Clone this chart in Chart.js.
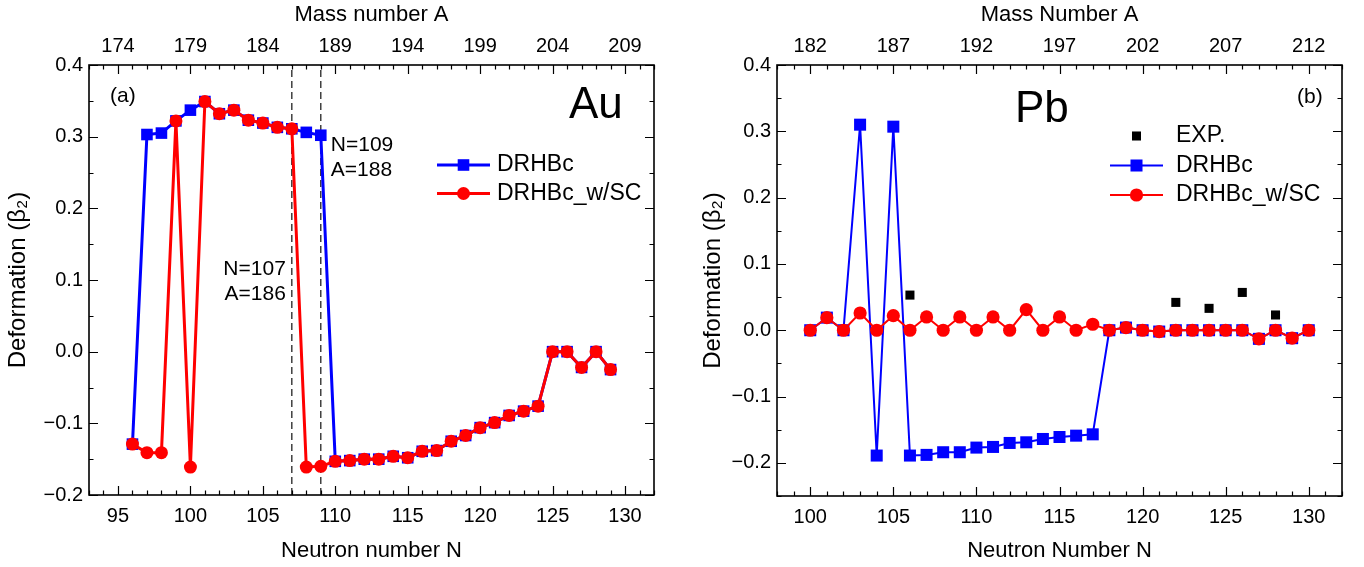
<!DOCTYPE html>
<html>
<head>
<meta charset="utf-8">
<script src="https://cdn.jsdelivr.net/npm/chart.js@4.4.0/dist/chart.umd.min.js"></script>
<style>
  html, body { margin: 0; padding: 0; background: #fff; }
  #wrap { position: relative; width: 1364px; height: 567px; }
  canvas { position: absolute; top: 0; }
  #auChart { left: 0; }
  #pbChart { left: 682px; }
</style>
</head>
<body>
<div id="wrap">
  <canvas id="auChart" width="682" height="567"></canvas>
  <canvas id="pbChart" width="682" height="567"></canvas>
</div>
<script>
const FONT = "'Liberation Sans', Arial, Helvetica, sans-serif";
Chart.defaults.font.family = FONT;
Chart.defaults.color = '#000';

// panel (a): Au
const auN = [96, 97, 98, 99, 100, 101, 102, 103, 104, 105, 106, 107, 108, 109, 110, 111, 112,
  113, 114, 115, 116, 117, 118, 119, 120, 121, 122, 123, 124, 125, 126, 127, 128, 129];
const auDRHBc = [-0.129, 0.303, 0.305, 0.322, 0.337, 0.349, 0.332, 0.337, 0.323, 0.319, 0.313, 0.311, 0.306, 0.302,
  -0.153, -0.152, -0.150, -0.150, -0.146, -0.148, -0.139, -0.138, -0.125, -0.117, -0.106, -0.099, -0.089,
  -0.083, -0.076, 0.000, 0.000, -0.022, 0.000, -0.025];
const auSC = [-0.129, -0.141, -0.141, 0.322, -0.161, 0.349, 0.332, 0.337, 0.323, 0.319, 0.313, 0.311, -0.161, -0.160,
  -0.153, -0.152, -0.150, -0.150, -0.146, -0.148, -0.139, -0.138, -0.125, -0.117, -0.106, -0.099, -0.089,
  -0.083, -0.076, 0.000, 0.000, -0.022, 0.000, -0.025];
const auTickN = [95, 100, 105, 110, 115, 120, 125, 130];
const auTickA = [174, 179, 184, 189, 194, 199, 204, 209];
const auMarkN = [107, 109];

// panel (b): Pb
const pbN = [100, 101, 102, 103, 104, 105, 106, 107, 108, 109, 110, 111, 112, 113, 114, 115,
  116, 117, 118, 119, 120, 121, 122, 123, 124, 125, 126, 127, 128, 129, 130];
const pbDRHBc = [0.000, 0.019, 0.000, 0.310, -0.189, 0.307, -0.189, -0.188, -0.184, -0.184, -0.177, -0.176,
  -0.170, -0.169, -0.164, -0.161, -0.159, -0.157, 0.000, 0.004, 0.000, -0.002, 0.000, 0.000, 0.000,
  0.000, 0.000, -0.013, 0.000, -0.012, 0.000];
const pbSC = [0.000, 0.019, 0.000, 0.026, 0.000, 0.022, 0.000, 0.020, 0.000, 0.020, 0.000, 0.020,
  0.000, 0.031, 0.000, 0.020, 0.000, 0.009, 0.000, 0.004, 0.000, -0.002, 0.000, 0.000, 0.000,
  0.000, 0.000, -0.013, 0.000, -0.012, 0.000];
const expN = [106, 122, 124, 126, 128];
const expBeta = [0.053, 0.042, 0.033, 0.057, 0.023];
const pbTickN = [100, 105, 110, 115, 120, 125, 130];
const pbTickA = [182, 187, 192, 197, 202, 207, 212];

const betaTicks = [-0.2, -0.1, 0.0, 0.1, 0.2, 0.3, 0.4];

const pts = (xs, ys) => xs.map((x, i) => ({ x: x, y: ys[i] }));
const fmtBeta = v => v.toFixed(1).replace('-', '\u2212');
const setTicks = vals => s => { s.ticks = vals.map(v => ({ value: v })); };

// inward ticks on all four sides + frame (Origin style)
function stepValues(scale, step) {
  const out = [];
  const a = Math.ceil(scale.min / step - 1e-6);
  const b = Math.floor(scale.max / step + 1e-6);
  for (let i = a; i <= b; i++) out.push(i * step);
  return out;
}
function isMajor(scale, v) {
  return scale.ticks.some(t => Math.abs(t.value - v) < 1e-6);
}
const frameTicks = {
  id: 'frameTicks',
  afterDraw(chart, args, o) {
    const { ctx, chartArea: a } = chart;
    const sx = chart.scales.x, st = chart.scales.xTop, sy = chart.scales.y;
    ctx.save();
    ctx.strokeStyle = '#000';
    ctx.lineWidth = 1.2;
    ctx.beginPath();
    stepValues(sx, o.xMinor).forEach(v => {
      const p = Math.round(sx.getPixelForValue(v)) + 0.5;
      const len = isMajor(sx, v) ? 9 : 4.5;
      ctx.moveTo(p, a.bottom); ctx.lineTo(p, a.bottom - len);
    });
    stepValues(st, o.xMinor).forEach(v => {
      const p = Math.round(st.getPixelForValue(v)) + 0.5;
      const len = isMajor(st, v) ? 9 : 4.5;
      ctx.moveTo(p, a.top); ctx.lineTo(p, a.top + len);
    });
    stepValues(sy, o.yMinor).forEach(v => {
      const p = Math.round(sy.getPixelForValue(v)) + 0.5;
      const len = isMajor(sy, v) ? 9 : 4.5;
      ctx.moveTo(a.left, p); ctx.lineTo(a.left + len, p);
      ctx.moveTo(a.right, p); ctx.lineTo(a.right - len, p);
    });
    ctx.stroke();
    ctx.lineWidth = 1.6;
    ctx.strokeRect(a.left, a.top, a.right - a.left, a.bottom - a.top);
    ctx.restore();
  }
};

function marker(ctx, style, r, x, y) {
  ctx.beginPath();
  if (style === 'rect') {
    const h = r * Math.SQRT1_2;
    ctx.rect(x - h, y - h, 2 * h, 2 * h);
  } else {
    ctx.arc(x, y, r, 0, Math.PI * 2);
  }
  ctx.fill();
}

// legend drawn as line + marker sample, like the original
const sideLegend = {
  id: 'sideLegend',
  afterDraw(chart, args, o) {
    const ctx = chart.ctx;
    ctx.save();
    o.items.forEach((idx, i) => {
      const ds = chart.data.datasets[idx];
      const y = o.y + i * o.dy;
      if (ds.showLine !== false) {
        ctx.strokeStyle = ds.borderColor;
        ctx.lineWidth = ds.borderWidth;
        ctx.beginPath();
        ctx.moveTo(o.x, y);
        ctx.lineTo(o.x + o.len, y);
        ctx.stroke();
      }
      ctx.fillStyle = ds.pointBackgroundColor;
      marker(ctx, ds.pointStyle, ds.pointRadius, o.x + o.len / 2, y);
      ctx.fillStyle = '#000';
      ctx.font = o.size + 'px ' + FONT;
      ctx.textAlign = 'left';
      ctx.textBaseline = 'middle';
      ctx.fillText(ds.label, o.x + o.len + o.gap, y);
    });
    ctx.restore();
  }
};

// free text in the plot
const notes = {
  id: 'notes',
  afterDraw(chart, args, o) {
    const ctx = chart.ctx;
    ctx.save();
    ctx.fillStyle = '#000';
    o.items.forEach(t => {
      let x = t.x;
      if (t.n !== undefined) x = chart.scales.x.getPixelForValue(t.n) + t.dx;
      ctx.font = t.size + 'px ' + FONT;
      ctx.textAlign = t.align || 'left';
      ctx.textBaseline = t.base || 'middle';
      ctx.fillText(t.text, x, t.y);
    });
    ctx.restore();
  }
};

function axes(o) {
  return {
    x: {
      type: 'linear', position: 'bottom', min: o.xMin, max: o.xMax,
      afterBuildTicks: setTicks(o.nTicks),
      afterFit: s => { s.height = o.bottomH; },
      grid: { display: false, drawTicks: false }, border: { display: false },
      ticks: { padding: 9, autoSkip: false, maxRotation: 0, font: { size: 20 }, color: '#000' },
      title: { display: true, text: o.xTitle, font: { size: 22 }, color: '#000', padding: { top: 0, bottom: 3 } }
    },
    xTop: {
      type: 'linear', position: 'top', min: o.aMin, max: o.aMax,
      afterBuildTicks: setTicks(o.aTicks),
      afterFit: s => { s.height = 65; },
      grid: { display: false, drawTicks: false }, border: { display: false },
      ticks: { padding: 7, autoSkip: false, maxRotation: 0, font: { size: 20 }, color: '#000' },
      title: { display: true, text: o.aTitle, font: { size: 22 }, color: '#000', padding: { top: 2, bottom: 0 } }
    },
    y: {
      type: 'linear', position: 'left', min: o.yMin, max: 0.4,
      afterBuildTicks: setTicks(betaTicks),
      afterFit: s => { s.width = o.leftW; },
      grid: { display: false, drawTicks: false }, border: { display: false },
      ticks: { padding: 6, font: { size: 20 }, color: '#000', callback: fmtBeta },
      title: { display: true, text: 'Deformation (\u03B2\u2082)', font: { size: 24 }, color: '#000', padding: { top: o.yTitlePad, bottom: 0 } }
    }
  };
}

new Chart(document.getElementById('auChart'), {
  type: 'line',
  data: {
    datasets: [
      {
        label: 'DRHBc', data: pts(auN, auDRHBc), order: 1,
        borderColor: '#0000ff', borderWidth: 3, backgroundColor: '#0000ff',
        pointStyle: 'rect', pointRadius: 8.2, pointBackgroundColor: '#0000ff', pointBorderWidth: 0
      },
      {
        label: 'DRHBc_w/SC', data: pts(auN, auSC), order: 0,
        borderColor: '#ff0000', borderWidth: 3, backgroundColor: '#ff0000',
        pointStyle: 'circle', pointRadius: 6.5, pointBackgroundColor: '#ff0000', pointBorderWidth: 0
      },
      ...auMarkN.map(n => ({
        label: 'N=' + n, data: [{ x: n, y: -0.2 }, { x: n, y: 0.4 }], order: 2,
        borderColor: '#222', borderWidth: 1.3, borderDash: [7, 4], pointRadius: 0
      }))
    ]
  },
  options: {
    responsive: false, animation: false, devicePixelRatio: 1,
    layout: { padding: { left: 0, right: 28, top: 0, bottom: 0 } },
    scales: axes({
      xMin: 93, xMax: 132, nTicks: auTickN, xTitle: 'Neutron number N', bottomH: 72,
      aMin: 172, aMax: 211, aTicks: auTickA, aTitle: 'Mass number A',
      yMin: -0.2, leftW: 89, yTitlePad: 4
    }),
    plugins: {
      legend: { display: false }, tooltip: { enabled: false },
      frameTicks: { xMinor: 1, yMinor: 0.05 },
      sideLegend: { items: [0, 1], x: 437, y: 165, dy: 28.5, len: 53, gap: 7, size: 23 },
      notes: {
        items: [
          { text: 'Au', x: 569, y: 118, size: 44, base: 'alphabetic' },
          { text: '(a)', x: 110, y: 96, size: 21 },
          { text: 'N=107', n: 107, dx: -6, y: 269, size: 21, align: 'right' },
          { text: 'A=186', n: 107, dx: -6, y: 294, size: 21, align: 'right' },
          { text: 'N=109', n: 109, dx: 10, y: 145, size: 21 },
          { text: 'A=188', n: 109, dx: 10, y: 170, size: 21 }
        ]
      }
    }
  },
  plugins: [frameTicks, sideLegend, notes]
});

new Chart(document.getElementById('pbChart'), {
  type: 'line',
  data: {
    datasets: [
      {
        label: 'EXP.', data: pts(expN, expBeta), order: 0, showLine: false,
        borderColor: '#000', backgroundColor: '#000',
        pointStyle: 'rect', pointRadius: 6.4, pointBackgroundColor: '#000', pointBorderWidth: 0
      },
      {
        label: 'DRHBc', data: pts(pbN, pbDRHBc), order: 2,
        borderColor: '#0000ff', borderWidth: 2, backgroundColor: '#0000ff',
        pointStyle: 'rect', pointRadius: 8.5, pointBackgroundColor: '#0000ff', pointBorderWidth: 0
      },
      {
        label: 'DRHBc_w/SC', data: pts(pbN, pbSC), order: 1,
        borderColor: '#ff0000', borderWidth: 2, backgroundColor: '#ff0000',
        pointStyle: 'circle', pointRadius: 6.6, pointBackgroundColor: '#ff0000', pointBorderWidth: 0
      }
    ]
  },
  options: {
    responsive: false, animation: false, devicePixelRatio: 1,
    layout: { padding: { left: 0, right: 22, top: 0, bottom: 0 } },
    scales: axes({
      xMin: 98, xMax: 132, nTicks: pbTickN, xTitle: 'Neutron Number N', bottomH: 71,
      aMin: 180, aMax: 214, aTicks: pbTickA, aTitle: 'Mass Number A',
      yMin: -0.25, leftW: 95, yTitlePad: 17
    }),
    plugins: {
      legend: { display: false }, tooltip: { enabled: false },
      frameTicks: { xMinor: 1, yMinor: 0.05 },
      sideLegend: { items: [0, 1, 2], x: 428, y: 136, dy: 29.5, len: 53, gap: 13, size: 23 },
      notes: {
        items: [
          { text: 'Pb', x: 333, y: 122, size: 44, base: 'alphabetic' },
          { text: '(b)', x: 615, y: 97, size: 21 }
        ]
      }
    }
  },
  plugins: [frameTicks, sideLegend, notes]
});
</script>
</body>
</html>
